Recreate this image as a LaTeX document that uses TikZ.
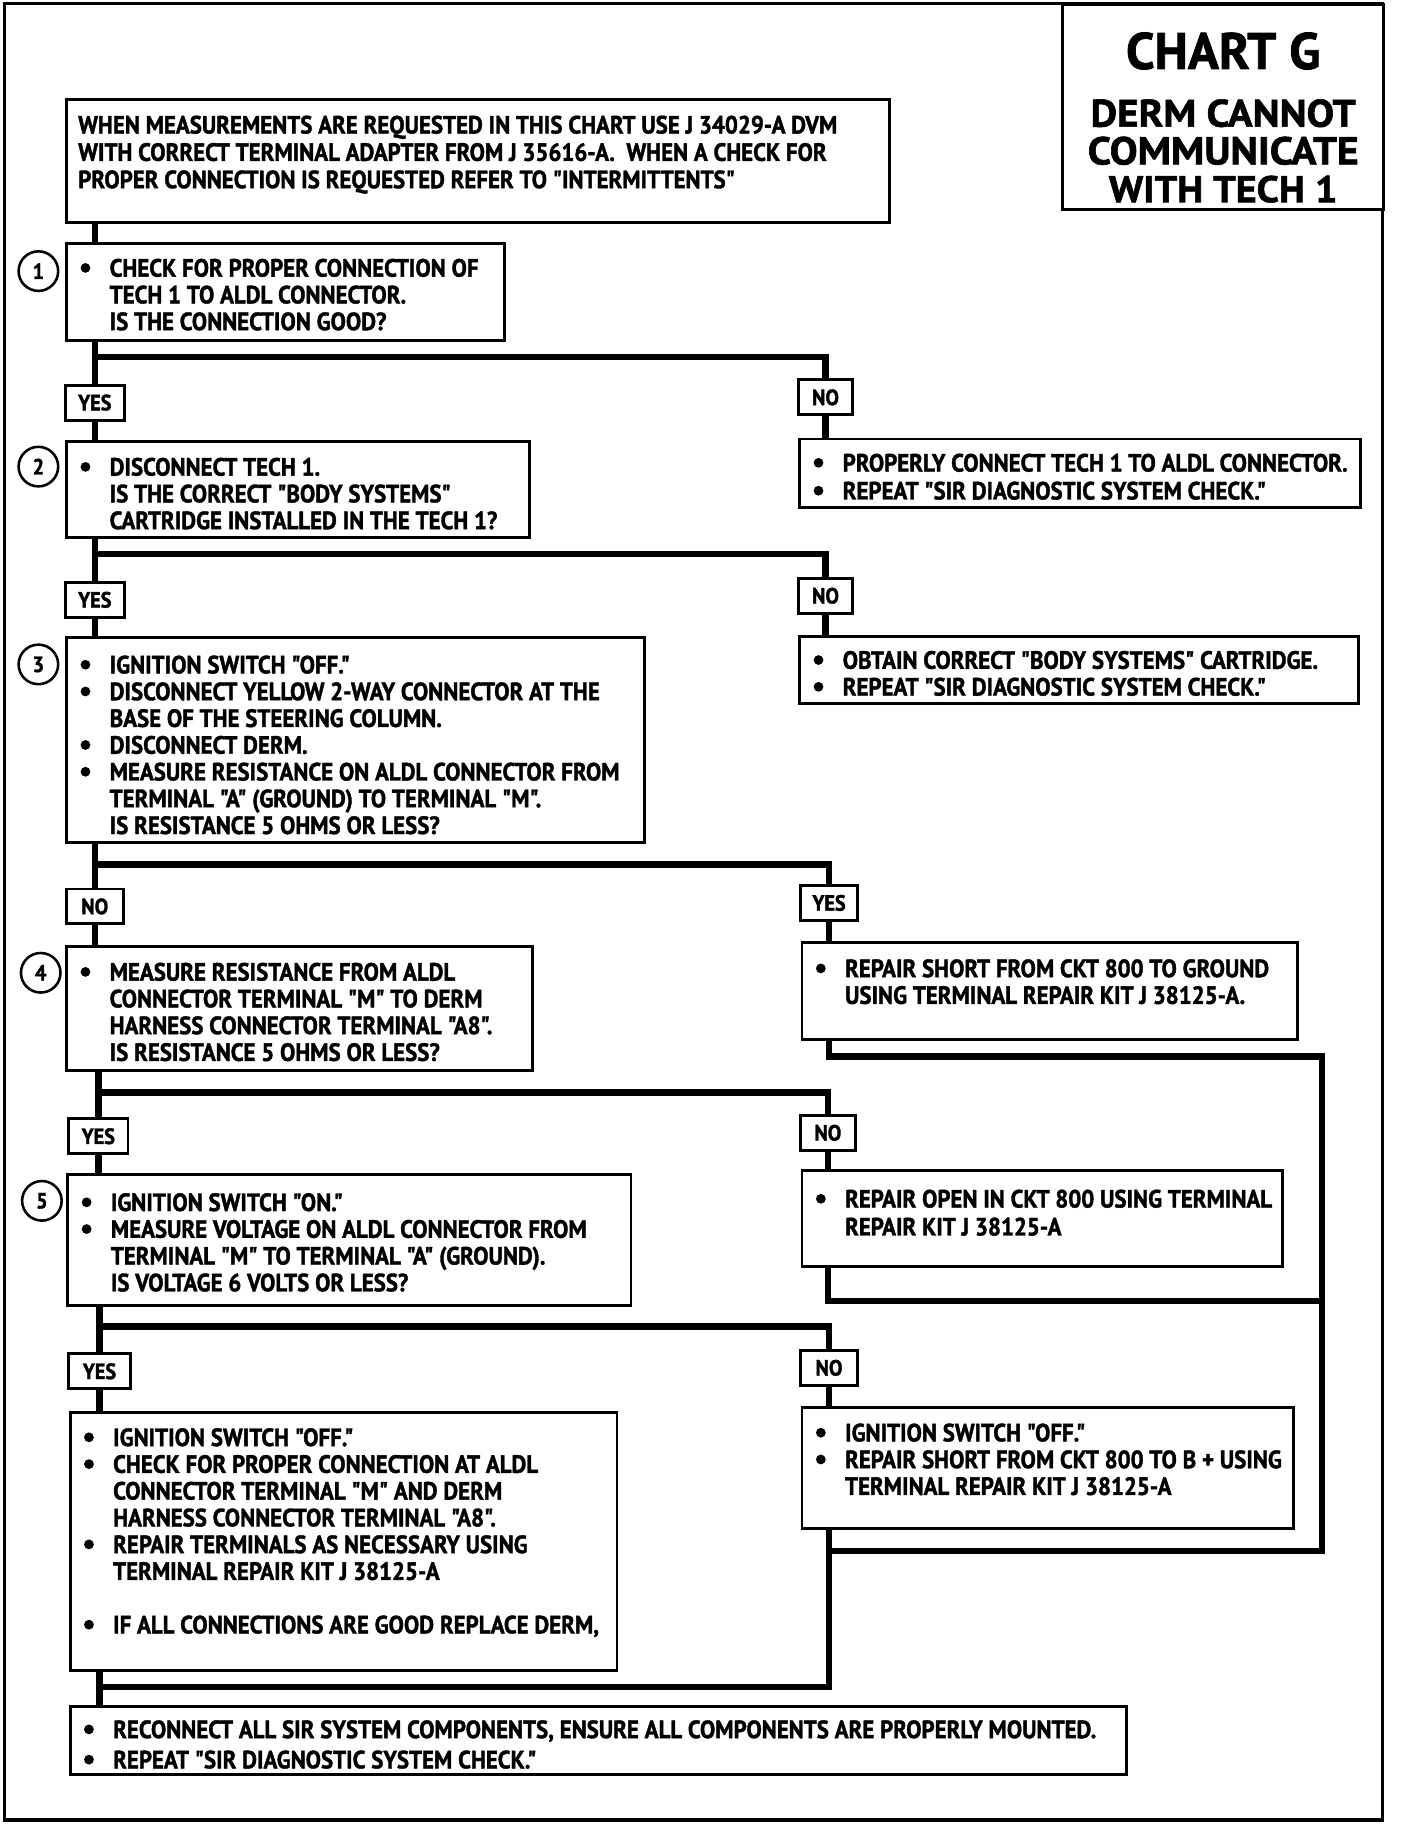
\documentclass[tikz,border=0pt]{standalone}
\usepackage{fontspec}
\setmainfont{PT Sans}[BoldFont={PT Sans Bold}]
\newfontfamily\bodyf{PT Sans Bold}[FakeStretch=0.915,FakeBold=1.5]
\newfontfamily\titlef{PT Sans Bold}[FakeBold=1.5]
\newfontfamily\titlew{PT Sans Bold}[FakeStretch=1.07,FakeBold=1.5]
\newlength\lsk
\newcommand\LN[1]{\hbox{\rule{0pt}{\lsk}\smash{#1}}}
\newcommand\bul{\tikz[baseline={(0pt,-7.5pt)}]\fill (0pt,0pt) circle[radius=4.2pt];}
\newcommand\BL[1]{\LN{\hspace{12pt}\makebox[25pt][l]{\bul}#1}}
\newcommand\CL[1]{\LN{\hspace{37pt}#1}}
\newcommand\PL[1]{\LN{\hspace{10pt}#1}}
\newcommand\BX[5]{\parbox[c][#2][t]{#1}{\offinterlineskip\hrule height 0pt depth 0pt width #1\relax
  \setlength\lsk{#4}\vspace*{#3}#5}}
\tikzset{
  x=1pt, y=-1pt,
  every node/.style={font=\bodyf\fontsize{21.5}{23}\selectfont},
  box/.style={draw, line width=2.5pt, inner sep=0pt, anchor=north west, fill=white},
  lab/.style={draw, line width=2.5pt, inner sep=0pt, fill=white, minimum height=30pt,
    font=\bodyf\fontsize{19}{20}\selectfont},
  circ/.style={draw, circle, line width=2.2pt, minimum size=34pt, inner sep=0pt,
    font=\bodyf\fontsize{19}{20}\selectfont},
  conn/.style={line width=5.5pt, line join=miter},
  frame/.style={line width=3pt},
}
\begin{document}
\begin{tikzpicture}
\useasboundingbox (0,0) rectangle (1210,1571);
\fill[white] (0,0) rectangle (1210,1571);
\draw[frame] (4,3) rectangle (1188,1564);

% title
\node[box, line width=2.5pt] (T) at (912,3) {\parbox[c][176pt][t]{276pt}{\offinterlineskip
  \hbox to\hsize{\hss\rule{0pt}{55pt}\titlef\fontsize{44}{44}\selectfont CHART G\hss}
  \hbox to\hsize{\hss\rule{0pt}{49pt}\titlew\fontsize{33}{33}\selectfont DERM CANNOT\hss}
  \hbox to\hsize{\hss\rule{0pt}{32pt}\titlew\fontsize{33.5}{34}\selectfont COMMUNICATE\hss}
  \hbox to\hsize{\hss\rule{0pt}{32pt}\titlew\fontsize{32}{32}\selectfont WITH TECH 1\hss}}};

% header
\node[box] (H) at (56,84) {\BX{707pt}{106pt}{6pt}{23.5pt}{%
  \PL{WHEN MEASUREMENTS ARE REQUESTED IN THIS CHART USE J 34029-A DVM}
  \PL{WITH CORRECT TERMINAL ADAPTER FROM J 35616-A.\ \ WHEN A CHECK FOR}
  \PL{PROPER CONNECTION IS REQUESTED REFER TO "INTERMITTENTS"}}};

% step 1
\node[box] (B1) at (56,208) {\BX{376pt}{83pt}{5.5pt}{23pt}{%
  \BL{CHECK FOR PROPER CONNECTION OF}
  \CL{TECH 1 TO ALDL CONNECTOR.}
  \CL{IS THE CONNECTION GOOD?}}};
\node[circ] (c1) at (33,233) {1};
\node[lab, minimum width=51pt] (Y1) at (81.5,346) {YES};
\node[lab, minimum width=47pt] (N1) at (709.5,341.5) {NO};
\node[box] (R1) at (686,376) {\BX{482pt}{59pt}{4pt}{24pt}{%
  \BL{PROPERLY CONNECT TECH 1 TO ALDL CONNECTOR.}
  \BL{REPEAT "SIR DIAGNOSTIC SYSTEM CHECK."}}};

% step 2
\node[box] (B2) at (56,378) {\BX{398pt}{83pt}{6.5pt}{23pt}{%
  \BL{DISCONNECT TECH 1.}
  \CL{IS THE CORRECT "BODY SYSTEMS"}
  \CL{CARTRIDGE INSTALLED IN THE TECH 1?}}};
\node[circ] (c2) at (33,401) {2};
\node[lab, minimum width=51pt] (Y2) at (81.5,515.5) {YES};
\node[lab, minimum width=47pt] (N2) at (709.5,512) {NO};
\node[box] (R2) at (686,546) {\BX{480pt}{57pt}{4.5pt}{23pt}{%
  \BL{OBTAIN CORRECT "BODY SYSTEMS" CARTRIDGE.}
  \BL{REPEAT "SIR DIAGNOSTIC SYSTEM CHECK."}}};

% step 3
\node[box] (B3) at (56,547) {\BX{497pt}{176pt}{7.5pt}{23pt}{%
  \BL{IGNITION SWITCH "OFF."}
  \BL{DISCONNECT YELLOW 2-WAY CONNECTOR AT THE}
  \CL{BASE OF THE STEERING COLUMN.}
  \BL{DISCONNECT DERM.}
  \BL{MEASURE RESISTANCE ON ALDL CONNECTOR FROM}
  \CL{TERMINAL "A" (GROUND) TO TERMINAL "M".}
  \CL{IS RESISTANCE 5 OHMS OR LESS?}}};
\node[circ] (c3) at (33,571) {3};
\node[lab, minimum width=49pt] (N3) at (81.5,779) {NO};
\node[lab, minimum width=49pt] (Y3) at (712.5,776) {YES};
\node[box] (R3) at (688,809) {\BX{426pt}{83pt}{6.5pt}{23pt}{%
  \BL{REPAIR SHORT FROM CKT 800 TO GROUND}
  \CL{USING TERMINAL REPAIR KIT J 38125-A.}}};

% step 4
\node[box] (B4) at (56,812) {\BX{400pt}{107pt}{6.5pt}{23pt}{%
  \BL{MEASURE RESISTANCE FROM ALDL}
  \CL{CONNECTOR TERMINAL "M" TO DERM}
  \CL{HARNESS CONNECTOR TERMINAL "A8".}
  \CL{IS RESISTANCE 5 OHMS OR LESS?}}};
\node[circ] (c4) at (35,836) {4};
\node[lab, minimum width=51pt] (Y4) at (84.5,976.5) {YES};
\node[lab, minimum width=47pt] (N4) at (711.5,973.5) {NO};
\node[box] (R4) at (688,1005) {\BX{413pt}{82pt}{7.5pt}{24pt}{%
  \BL{REPAIR OPEN IN CKT 800 USING TERMINAL}
  \CL{REPAIR KIT J 38125-A}}};

% step 5
\node[box] (B5) at (57,1008) {\BX{484pt}{113pt}{8.5pt}{23pt}{%
  \BL{IGNITION SWITCH "ON."}
  \BL{MEASURE VOLTAGE ON ALDL CONNECTOR FROM}
  \CL{TERMINAL "M" TO TERMINAL "A" (GROUND).}
  \CL{IS VOLTAGE 6 VOLTS OR LESS?}}};
\node[circ] (c5) at (36,1032) {5};
\node[lab, minimum width=53pt] (Y5) at (85.5,1178.5) {YES};
\node[lab, minimum width=49pt] (N5) at (712.5,1175.5) {NO};
\node[box] (R5) at (688,1208) {\BX{422pt}{104pt}{6.5pt}{23pt}{%
  \BL{IGNITION SWITCH "OFF."}
  \BL{REPAIR SHORT FROM CKT 800 TO B + USING}
  \CL{TERMINAL REPAIR KIT J 38125-A}}};

% step 6
\node[box] (B6) at (59,1213) {\BX{470pt}{221pt}{5.5pt}{23pt}{%
  \BL{IGNITION SWITCH "OFF."}
  \BL{CHECK FOR PROPER CONNECTION AT ALDL}
  \CL{CONNECTOR TERMINAL "M" AND DERM}
  \CL{HARNESS CONNECTOR TERMINAL "A8".}
  \BL{REPAIR TERMINALS AS NECESSARY USING}
  \CL{TERMINAL REPAIR KIT J 38125-A}
  \LN{}
  \BL{IF ALL CONNECTIONS ARE GOOD REPLACE DERM,}}};

% final
\node[box] (F) at (59,1465) {\BX{908pt}{59pt}{1.5pt}{26pt}{%
  \BL{RECONNECT ALL SIR SYSTEM COMPONENTS, ENSURE ALL COMPONENTS ARE PROPERLY MOUNTED.}
  \BL{REPEAT "SIR DIAGNOSTIC SYSTEM CHECK."}}};

% junction coordinates
\coordinate (j1) at (81.5,307);
\coordinate (j2) at (81.5,476);
\coordinate (j3) at (81.5,743);
\coordinate (j4) at (84.5,939);
\coordinate (j5) at (85.5,1140);
\coordinate (k3) at (1136,908);
\coordinate (k4) at (1136,1118);
\coordinate (k5) at (1136,1333);
\coordinate (m) at (712.5,1450);

% connectors
\draw[conn] (H.south -| Y1) -- (B1.north -| Y1);
\draw[conn] (B1.south -| Y1) -- (Y1.north);
\draw[conn] (Y1.south) -- (B2.north -| Y1);
\draw[conn] (j1) -| (N1.north);
\draw[conn] (N1.south) -- (R1.north -| N1);

\draw[conn] (B2.south -| Y2) -- (Y2.north);
\draw[conn] (Y2.south) -- (B3.north -| Y2);
\draw[conn] (j2) -| (N2.north);
\draw[conn] (N2.south) -- (R2.north -| N2);

\draw[conn] (B3.south -| N3) -- (N3.north);
\draw[conn] (N3.south) -- (B4.north -| N3);
\draw[conn] (j3) -| (Y3.north);
\draw[conn] (Y3.south) -- (R3.north -| Y3);

\draw[conn] (B4.south -| Y4) -- (Y4.north);
\draw[conn] (Y4.south) -- (B5.north -| Y4);
\draw[conn] (j4) -| (N4.north);
\draw[conn] (N4.south) -- (R4.north -| N4);

\draw[conn] (B5.south -| Y5) -- (Y5.north);
\draw[conn] (Y5.south) -- (B6.north -| Y5);
\draw[conn] (j5) -| (N5.north);
\draw[conn] (N5.south) -- (R5.north -| N5);

\draw[conn] (R3.south -| Y3) |- (k3) |- (N5 |- k5);
\draw[conn] (R4.south -| N4) |- (k4);
\draw[conn] (R5.south -| N5) |- (Y5 |- m);
\draw[conn] (B6.south -| Y5) -- (F.north -| Y5);
\end{tikzpicture}
\end{document}
